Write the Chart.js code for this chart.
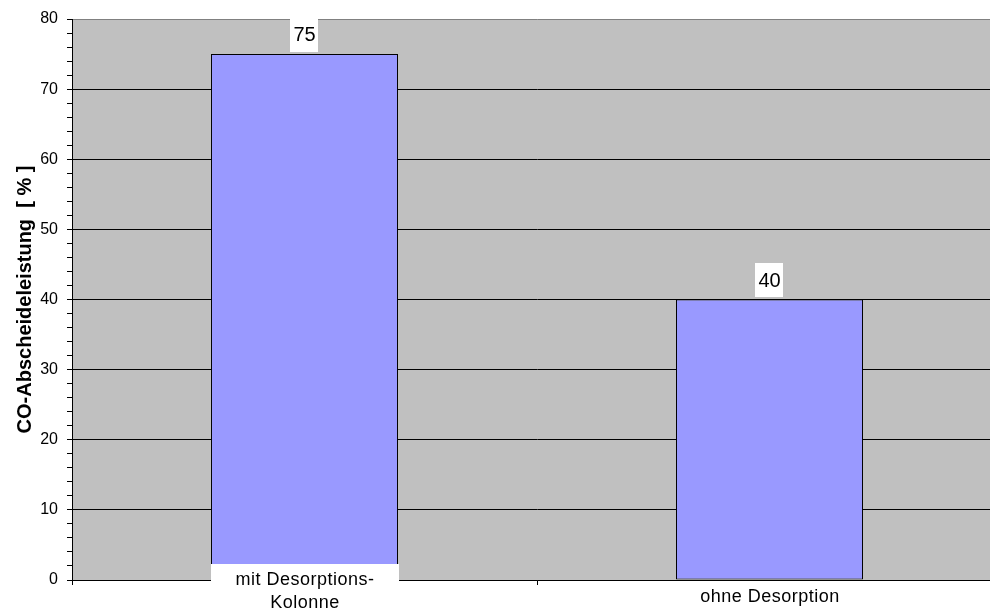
<!DOCTYPE html>
<html>
<head>
<meta charset="utf-8">
<script src="https://cdn.jsdelivr.net/npm/chart.js@4/dist/chart.umd.min.js"></script>
<style>
  html, body { margin: 0; padding: 0; background: #ffffff; overflow: hidden; }
  #wrap { width: 1010px; height: 611px; }
</style>
</head>
<body>
<div id="wrap"><canvas id="chart" width="1010" height="611"></canvas></div>
<script>
// Categories (each entry is the list of lines of its label)
const categories = [
  ['mit Desorptions-', 'Kolonne'],
  ['ohne Desorption']
];
// CO separation performance in percent
const abscheideleistung = [75, 40];
// Axis range and label step
const yMin = 0;
const yMax = 80;
const yMajorStep = 10;
const yMinorStep = 2;
const yTitle = 'CO-Abscheideleistung  [ % ]';

const FONT = "'Liberation Sans', Arial, Helvetica, sans-serif";

// Grey plot area background
const plotBackground = {
  id: 'plotBackground',
  beforeDraw(chart) {
    const { ctx, chartArea: a } = chart;
    ctx.save();
    ctx.fillStyle = '#C0C0C0';
    ctx.fillRect(a.left, a.top, a.right - a.left, a.bottom - a.top);
    ctx.restore();
  }
};

// Value boxes above each bar
const valueBoxes = {
  id: 'valueBoxes',
  afterDatasetsDraw(chart) {
    const { ctx } = chart;
    const meta = chart.getDatasetMeta(0);
    ctx.save();
    ctx.font = '20px ' + FONT;
    ctx.textAlign = 'center';
    ctx.textBaseline = 'middle';
    meta.data.forEach((bar, i) => {
      const text = String(chart.data.datasets[0].data[i]);
      const cx = bar.x;
      const cy = bar.y - 19.5;
      const w = ctx.measureText(text).width + 6;
      ctx.fillStyle = '#ffffff';
      ctx.fillRect(Math.round(cx - w / 2), Math.round(cy - 17), Math.round(w), 34);
      ctx.fillStyle = '#000000';
      ctx.fillText(text, cx, cy + 1);
    });
    ctx.restore();
  }
};

// Category labels with white backing, multi-line labels rise above the axis
const categoryLabels = {
  id: 'categoryLabels',
  afterDraw(chart) {
    const { ctx } = chart;
    const x = chart.scales.x;
    const meta = chart.getDatasetMeta(0);
    ctx.save();
    ctx.font = '18px ' + FONT;
    ctx.letterSpacing = '0.5px';
    ctx.textAlign = 'center';
    ctx.textBaseline = 'alphabetic';
    categories.forEach((lines, i) => {
      const cx = x.getPixelForTick(i);
      const n = lines.length;
      const first = x.top + 22 - (n - 1) * 17;
      const bar = meta.data[i];
      const half = bar.width / 2;
      const boxTop = first - 21;
      if (boxTop < x.top) {
        ctx.fillStyle = '#ffffff';
        ctx.fillRect(Math.round(cx - half), boxTop, Math.round(bar.width) + 1, chart.height - boxTop);
      }
      ctx.fillStyle = '#000000';
      lines.forEach((line, k) => {
        ctx.fillText(line, cx + 0.5, first + k * 23);
      });
    });
    ctx.restore();
  }
};

new Chart(document.getElementById('chart'), {
  type: 'bar',
  data: {
    labels: categories.map(l => l.join(' ')),
    datasets: [{
      data: abscheideleistung,
      backgroundColor: '#9999FF',
      borderColor: '#000000',
      borderWidth: 1,
      borderSkipped: false,
      barPercentage: 0.4022,
      categoryPercentage: 1.0
    }]
  },
  options: {
    responsive: false,
    animation: false,
    events: [],
    layout: { padding: { top: 19, right: 8, left: 0, bottom: 0 } },
    plugins: {
      legend: { display: false },
      tooltip: { enabled: false },
      title: { display: false }
    },
    scales: {
      x: {
        type: 'category',
        offset: true,
        grid: {
          display: true,
          offset: true,
          drawOnChartArea: false,
          drawTicks: true,
          tickLength: 5,
          color: '#000000',
          lineWidth: 1
        },
        border: { display: true, color: '#000000', width: 1 },
        ticks: { display: false },
        afterFit(scale) { scale.height = 31; }
      },
      y: {
        min: yMin,
        max: yMax,
        grid: {
          drawOnChartArea: true,
          drawTicks: true,
          tickLength: 5,
          tickColor: '#000000',
          lineWidth: 1,
          color(ctx) {
            const v = ctx.tick ? ctx.tick.value : 0;
            if (v % yMajorStep !== 0) return 'rgba(0,0,0,0)';
            return v === yMax ? '#808080' : '#000000';
          }
        },
        border: { display: true, color: '#000000', width: 1 },
        ticks: {
          stepSize: yMinorStep,
          autoSkip: false,
          padding: 9,
          color: '#000000',
          font: { family: FONT, size: 16 },
          callback(value) { return value % yMajorStep === 0 ? String(value) : ''; }
        },
        title: {
          display: true,
          text: yTitle,
          color: '#000000',
          font: { family: FONT, size: 20, weight: 'bold' },
          padding: { top: 13, bottom: 0 }
        },
        afterFit(scale) { scale.width = 72; }
      }
    }
  },
  plugins: [plotBackground, valueBoxes, categoryLabels]
});
</script>
</body>
</html>
